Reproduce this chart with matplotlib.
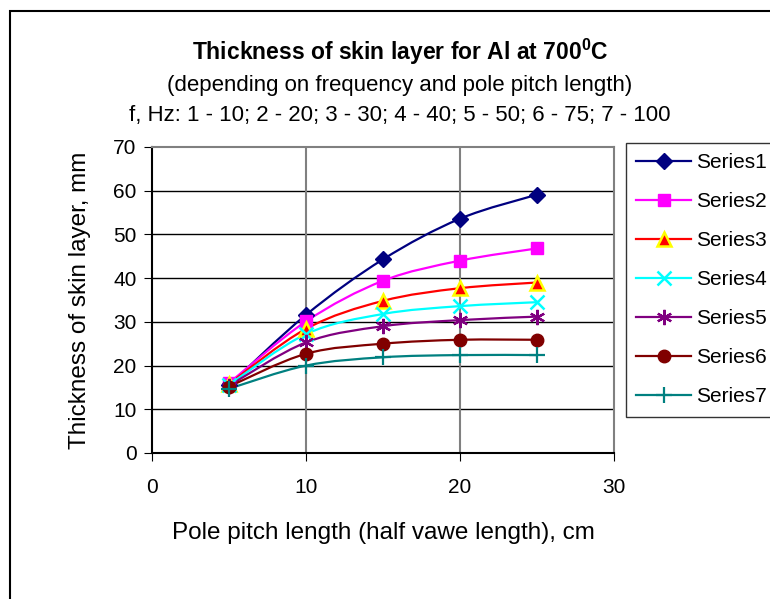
import matplotlib
matplotlib.use('Agg')
import matplotlib.pyplot as plt
from matplotlib.path import Path
from matplotlib.patches import PathPatch, Rectangle
from matplotlib.lines import Line2D

plt.rcParams['font.family'] = ['Liberation Sans', 'DejaVu Sans']
plt.rcParams['mathtext.fontset'] = 'custom'
plt.rcParams['mathtext.rm'] = 'Liberation Sans'
plt.rcParams['mathtext.bf'] = 'Liberation Sans:bold'

# pole pitch length, cm
pitch = [5, 10, 15, 20, 25]

# skin layer thickness, mm (one list per frequency)
s1 = [15.5, 31.6, 44.3, 53.6, 59.1]
s2 = [16.0, 30.1, 39.4, 44.0, 46.8]
s3 = [15.8, 28.4, 34.8, 37.7, 39.0]
s4 = [15.6, 27.2, 31.8, 33.6, 34.5]
s5 = [15.4, 25.3, 29.0, 30.4, 31.2]
s6 = [15.2, 22.7, 25.0, 25.9, 25.9]
s7 = [14.7, 20.0, 21.9, 22.4, 22.4]

labels = ['Series1', 'Series2', 'Series3', 'Series4', 'Series5', 'Series6', 'Series7']
series = [s1, s2, s3, s4, s5, s6, s7]

styles = [
    dict(color='#000080', marker='D', mfc='#000080', mec='#000080', ms=8),
    dict(color='#FF00FF', marker='s', mfc='#FF00FF', mec='#FF00FF', ms=9),
    dict(color='#FF0000', marker='^', mfc='#FF0000', mec='#FFFF00', ms=10, mew=1.8),
    dict(color='#00FFFF', marker='x', mfc='#00FFFF', mec='#00FFFF', ms=10, mew=1.8),
    dict(color='#800080', marker=(6, 2, 0), mfc='#800080', mec='#800080', ms=11, mew=1.6),
    dict(color='#800000', marker='o', mfc='#800000', mec='#800000', ms=9),
    dict(color='#008080', marker='+', mfc='#008080', mec='#008080', ms=11, mew=1.6),
]


def smooth_path(x, y):
    # Catmull-Rom style bezier through the points (like Excel's smoothed line)
    verts = [(x[0], y[0])]
    codes = [Path.MOVETO]
    n = len(x)
    for i in range(n - 1):
        x0, y0 = (x[i - 1], y[i - 1]) if i > 0 else (x[i], y[i])
        x3, y3 = (x[i + 2], y[i + 2]) if i + 2 < n else (x[i + 1], y[i + 1])
        c1 = (x[i] + (x[i + 1] - x0) / 6, y[i] + (y[i + 1] - y0) / 6)
        c2 = (x[i + 1] - (x3 - x[i]) / 6, y[i + 1] - (y3 - y[i]) / 6)
        verts += [c1, c2, (x[i + 1], y[i + 1])]
        codes += [Path.CURVE4] * 3
    return Path(verts, codes)


fig = plt.figure(figsize=(7.7, 5.99), dpi=100)
ax = fig.add_axes([152 / 770, 1 - 453 / 599, 462 / 770, 306 / 599])

handles = []
for vals, lab, st in zip(series, labels, styles):
    ax.add_patch(PathPatch(smooth_path(pitch, vals), fill=False,
                           edgecolor=st['color'], lw=1.6, zorder=3))
    ax.plot(pitch, vals, linestyle='none', marker=st['marker'], ms=st['ms'],
            mfc=st['mfc'], mec=st['mec'], mew=st.get('mew', 1.0), zorder=4)
    handles.append(Line2D([], [], color=st['color'], lw=1.6, marker=st['marker'],
                          ms=st['ms'], mfc=st['mfc'], mec=st['mec'],
                          mew=st.get('mew', 1.0)))

ax.set_xlim(0, 30)
ax.set_ylim(0, 70)
ax.set_xticks([0, 10, 20, 30])
ax.set_yticks(range(0, 71, 10))
ax.tick_params(labelsize=15, direction='out', length=6, color='black')
ax.tick_params(axis='x', pad=12)
ax.tick_params(axis='y', pad=5)
for y in range(10, 70, 10):
    ax.axhline(y, color='black', lw=1.0, zorder=1)
for x in [10, 20]:
    ax.axvline(x, color='#808080', lw=1.5, zorder=1)
ax.spines['left'].set_color('black')
ax.spines['bottom'].set_color('black')
ax.spines['top'].set_color('#808080')
ax.spines['right'].set_color('#808080')
for sp in ax.spines.values():
    sp.set_linewidth(1.5)

ax.set_xlabel('Pole pitch length (half vawe length), cm', fontsize=17.5, labelpad=18)
ax.set_ylabel('Thickness of skin layer, mm', fontsize=17.5, labelpad=16)

fig.text(400 / 770, 1 - 52 / 599, r'Thickness of skin layer for Al at 700$^{\mathbf{0}}$C',
         ha='center', va='center', fontsize=16.5, fontweight='bold')
fig.text(400 / 770, 1 - 85 / 599, '(depending on frequency and pole pitch length)',
         ha='center', va='center', fontsize=16)
fig.text(400 / 770, 1 - 116 / 599, 'f, Hz: 1 - 10; 2 - 20; 3 - 30; 4 - 40; 5 - 50; 6 - 75; 7 - 100',
         ha='center', va='center', fontsize=16)

leg = fig.legend(handles, labels, loc='upper left', bbox_to_anchor=(626 / 770, 1 - 143 / 599),
                 fontsize=15, frameon=True, fancybox=False, borderaxespad=0,
                 labelspacing=0.96, handlelength=2.6, handletextpad=0.25, borderpad=0.5)
leg.get_frame().set_edgecolor('black')
leg.get_frame().set_linewidth(1.0)

# outer chart border (cut off at the right and bottom)
fig.patches.append(Rectangle((10 / 770, -0.1), 1.2, 1 - 11 / 599 + 0.1, transform=fig.transFigure,
                             fill=False, edgecolor='black', lw=1.5))

fig.savefig('out.png', dpi=100)
